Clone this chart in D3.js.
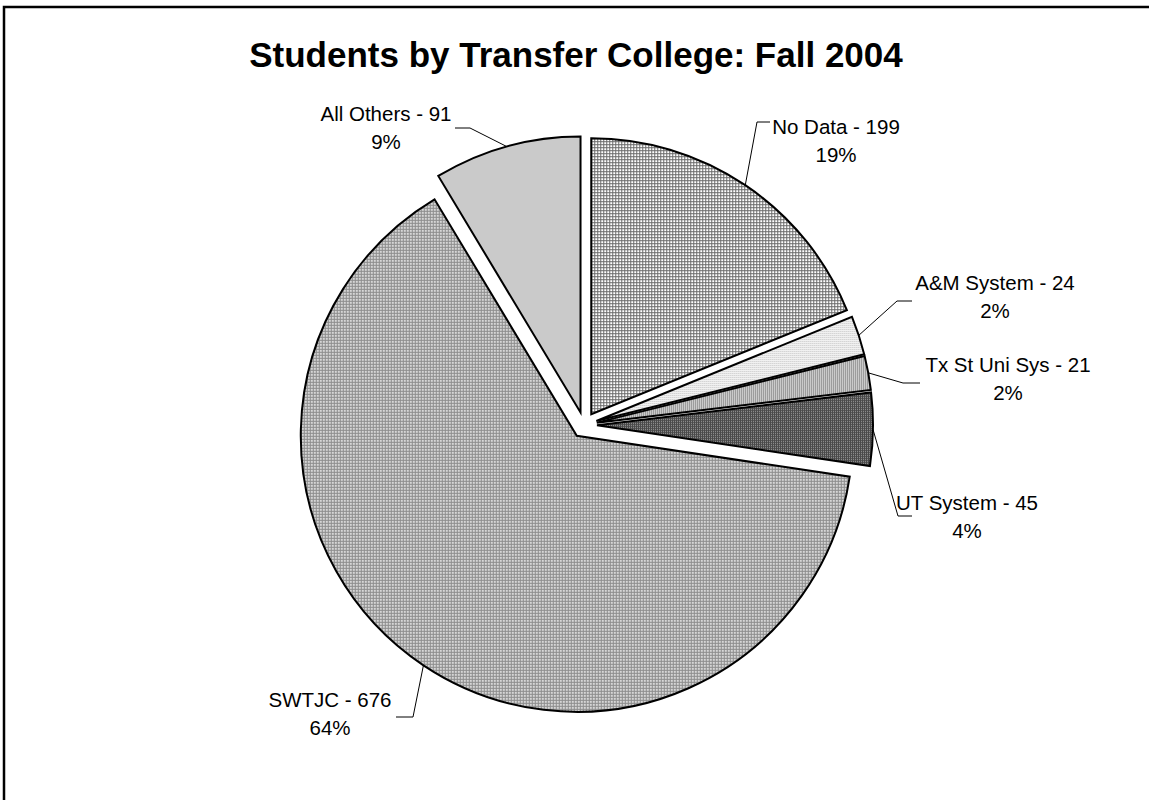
<!DOCTYPE html>
<html>
<head>
<script src="https://cdn.jsdelivr.net/npm/d3@7"></script>
<style>
  body { margin: 0; background: #fff; }
  text { font-family: "Liberation Sans", Arial, sans-serif; fill: #000; }
</style>
</head>
<body>
<svg id="chart" width="1149" height="800"></svg>
<script>
// Data
var categories = ["No Data", "A&M System", "Tx St Uni Sys", "UT System", "SWTJC", "All Others"];
var counts = [199, 24, 21, 45, 676, 91];
var patternIds = ["grid", "lightdots", "vlines", "darkcheck", "medgrid", "finecheck"];

// label anchors: [text centre x, first line y, leader elbow x, elbow y, leader end x, end y]
var labelPos = [
  [836, 127, 757, 122, 770, 122],
  [995, 283, 897, 301, 912, 301],
  [1008, 365, 903, 383, 920, 383],
  [967, 503, 898, 516, 912, 516],
  [330, 700, 413, 717, 396, 717],
  [386, 114, 470, 128, 455, 128]
];

var cx = 584, cy = 425, radius = 276, explode = 13;
var total = d3.sum(counts);

var svg = d3.select("svg#chart");
var defs = svg.append("defs");

// Patterns (pixel fills, like the old Excel ones)
function pattern(id, size, bg, cells) {
  var p = defs.append("pattern").attr("id", id).attr("patternUnits", "userSpaceOnUse")
    .attr("width", size).attr("height", size);
  p.append("rect").attr("width", size).attr("height", size).attr("fill", bg).attr("shape-rendering", "crispEdges");
  cells.forEach(function(c) {
    p.append("rect").attr("x", c[0]).attr("y", c[1]).attr("width", c[2]).attr("height", c[3])
      .attr("fill", c[4]).attr("shape-rendering", "crispEdges");
  });
}
pattern("grid", 3, "#ffffff", [[0, 0, 3, 1, "#6a6a6a"], [0, 0, 1, 3, "#6a6a6a"]]);
pattern("lightdots", 2, "#f2f2f2", [[0, 0, 1, 1, "#c4c4c4"]]);
pattern("vlines", 2, "#dcdcdc", [[0, 0, 1, 2, "#8a8a8a"]]);
pattern("darkcheck", 2, "#4a4a4a", [[0, 0, 1, 1, "#9a9a9a"]]);
pattern("medgrid", 3, "#8c8c8c", [[1, 1, 2, 2, "#d6d6d6"]]);
pattern("finecheck", 2, "#b0b0b0", [[0, 0, 1, 1, "#e4e4e4"], [1, 1, 1, 1, "#e4e4e4"]]);

// Outer frame (cut off on the right and bottom)
svg.append("rect").attr("x", 4).attr("y", 7).attr("width", 1200).attr("height", 900)
  .attr("fill", "none").attr("stroke", "#000").attr("stroke-width", 2.5);

// Title
svg.append("text").attr("x", 576).attr("y", 67).attr("text-anchor", "middle")
  .style("font-size", "35px").style("font-weight", "bold")
  .text("Students by Transfer College: Fall 2004");

var pie = d3.pie().sort(null).value(function(d) { return d; });
var arcs = pie(counts);
var arc = d3.arc().innerRadius(0).outerRadius(radius);

var g = svg.append("g").attr("transform", "translate(" + cx + "," + cy + ")");

arcs.forEach(function(a, i) {
  var mid = (a.startAngle + a.endAngle) / 2;
  var ox = explode * Math.sin(mid), oy = -explode * Math.cos(mid);
  g.append("path").attr("d", arc(a))
    .attr("transform", "translate(" + ox + "," + oy + ")")
    .attr("fill", "url(#" + patternIds[i] + ")")
    .attr("stroke", "#000").attr("stroke-width", 2).attr("stroke-linejoin", "miter");

  // leader line from arc edge to label
  var ex = cx + ox + radius * Math.sin(mid), ey = cy + oy - radius * Math.cos(mid);
  var lp = labelPos[i];
  svg.append("polyline")
    .attr("points", [[ex, ey], [lp[2], lp[3]], [lp[4], lp[5]]].map(function(p) { return p.join(","); }).join(" "))
    .attr("fill", "none").attr("stroke", "#000").attr("stroke-width", 1);

  var t = svg.append("text").attr("text-anchor", "middle").style("font-size", "20.5px");
  t.append("tspan").attr("x", lp[0]).attr("y", lp[1]).attr("dy", "0.35em")
    .text(categories[i] + " - " + counts[i]);
  t.append("tspan").attr("x", lp[0]).attr("y", lp[1] + 28).attr("dy", "0.35em")
    .text(d3.format(".0%")(counts[i] / total));
});
</script>
</body>
</html>
